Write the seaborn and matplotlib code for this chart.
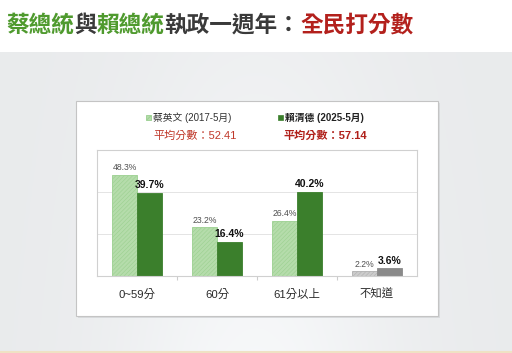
import seaborn as sns
import matplotlib.pyplot as plt
import pandas as pd
import numpy as np
from matplotlib.patches import Rectangle

categories = ["0~59分", "60分", "61分以上", "不知道"]
tsai = [48.3, 23.2, 26.4, 2.2]
lai = [39.7, 16.4, 40.2, 3.6]
series = ["蔡英文 (2017-5月)", "賴清德 (2025-5月)"]
means = ["平均分數：52.41", "平均分數：57.14"]

sns.set_theme(style="white")
plt.rcParams["font.family"] = ["Liberation Sans", "Noto Sans CJK TC", "DejaVu Sans"]
plt.rcParams["hatch.linewidth"] = 0.4

df = pd.DataFrame({
    "cat": categories * 2,
    "val": tsai + lai,
    "who": [series[0]] * 4 + [series[1]] * 4,
})

fig = plt.figure(figsize=(5.12, 3.53), dpi=100)
fig.patch.set_facecolor("white")

# slide background
bg = fig.add_axes([0, 0, 1, (353 - 52) / 353], zorder=-10)
xx, yy = np.meshgrid(np.linspace(-1, 1, 256), np.linspace(0, 1, 128))
shade = 0.915 + 0.05 * np.exp(-(xx / 0.55) ** 2) * (0.4 + 0.6 * yy)
bg.imshow(np.dstack([shade, shade + 0.006, shade + 0.012]).clip(0, 1),
          aspect="auto", extent=[0, 1, 0, 1])
bg.axhline(0.002, color="#efe2c4", lw=1.5)
bg.set_axis_off()

# white panel
fig.patches.append(Rectangle((76 / 512 + 0.003, 37 / 353 - 0.006), 362 / 512, 215 / 353,
                             transform=fig.transFigure, facecolor="#d9dbdd",
                             edgecolor="none", zorder=-5))
fig.patches.append(Rectangle((76 / 512, 37 / 353), 362 / 512, 215 / 353,
                             transform=fig.transFigure, facecolor="white",
                             edgecolor="#c4c4c4", lw=0.8, zorder=-4))

ax = fig.add_axes([97 / 512, 77 / 353, 320 / 512, 126 / 353])
sns.barplot(data=df, x="cat", y="val", hue="who", order=categories,
            hue_order=series, width=0.625, ax=ax, legend=False)

light_face = ["#b5dcab"] * 3 + ["#cccccc"]
light_hatch = ["#9bd090"] * 3 + ["#b0b0b0"]
dark_face = ["#3b7f2c"] * 3 + ["#8a8a8a"]
for bar, fc, hc in zip(ax.containers[0], light_face, light_hatch):
    bar.set_facecolor(fc)
    bar.set_edgecolor(hc)
    bar.set_hatch("////////")
    bar.set_linewidth(0.6)
for bar, fc in zip(ax.containers[1], dark_face):
    bar.set_facecolor(fc)
    bar.set_edgecolor(fc)
    bar.set_linewidth(0.6)

ax.bar_label(ax.containers[0], labels=[f"{v}%" for v in tsai], padding=2,
             fontsize=6.2, color="#505050")
ax.bar_label(ax.containers[1], labels=[f"{v}%" for v in lai], padding=2,
             fontsize=7.5, fontweight="bold", color="#111111")

ax.set_ylim(0, 60)
ax.set_yticks([20, 40])
ax.set_yticklabels([])
ax.tick_params(axis="y", length=0)
ax.yaxis.grid(True, color="#e4e4e4", lw=0.7)
ax.set_axisbelow(True)
ax.set_xlim(-0.5, 3.5)
ax.set_xticks([0.5, 1.5, 2.5], minor=True)
ax.tick_params(axis="x", which="minor", length=3, color="#cccccc", width=0.8,
               direction="out", bottom=True)
ax.tick_params(axis="x", which="major", length=0, pad=9, labelsize=8.2,
               labelcolor="#2a2a2a")
for lab in ax.get_xticklabels():
    lab.set_fontweight("medium")
ax.set_xlabel("")
ax.set_ylabel("")
for s in ax.spines.values():
    s.set_color("#d0d0d0")
    s.set_linewidth(0.8)
ax.set_facecolor("white")

# legend and means
def fy(py):
    return 1 - py / 353

fig.patches.append(Rectangle((146 / 512, fy(120)), 5 / 512, 5 / 353,
                             transform=fig.transFigure, facecolor="#b5dcab",
                             edgecolor="#8cc982", hatch="//////", lw=0.5))
fig.patches.append(Rectangle((278 / 512, fy(120)), 5 / 512, 5 / 353,
                             transform=fig.transFigure, facecolor="#3b7f2c",
                             edgecolor="#3b7f2c", lw=0.5))
fig.text(153 / 512, fy(117.5), series[0], fontsize=7, color="#333333", va="center")
fig.text(285 / 512, fy(117.5), series[1], fontsize=7, color="#222222",
         fontweight="bold", va="center")
fig.text(195 / 512, fy(136), means[0], fontsize=8, color="#c0392b",
         ha="center", va="center")
fig.text(325 / 512, fy(136), means[1], fontsize=8, color="#b0201a",
         ha="center", va="center", fontweight="bold")

# multi-coloured title
pieces = [("蔡總統", "#4f9a2e"), ("與", "#3a3a3a"), ("賴總統", "#4f9a2e"),
          ("執政一週年：", "#3a3a3a"), ("全民打分數", "#b3201c")]
fig.canvas.draw()
renderer = fig.canvas.get_renderer()
x = 6 / 512
for txt, col in pieces:
    t = fig.text(x, fy(25), txt, fontsize=16.3, fontweight="bold", color=col,
                 va="center", family=["Noto Sans CJK TC"])
    bb = t.get_window_extent(renderer)
    x = bb.x1 / fig.bbox.width

fig.savefig("out.png", dpi=100)
